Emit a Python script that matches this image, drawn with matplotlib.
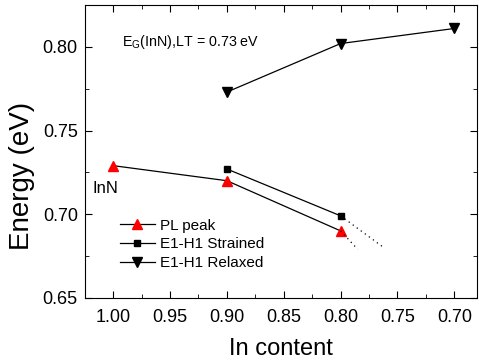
import numpy as np
import matplotlib.pyplot as plt
from matplotlib.ticker import MultipleLocator

plt.rcParams['font.family'] = ['Liberation Sans', 'DejaVu Sans']

# data
pl_x = [1.00, 0.90, 0.80]
pl_y = [0.729, 0.720, 0.690]
str_x = [0.90, 0.80]
str_y = [0.727, 0.699]
rel_x = [0.90, 0.80, 0.70]
rel_y = [0.773, 0.802, 0.811]
# dotted extrapolations
pl_ext_x = [0.80, 0.785]
pl_ext_y = [0.690, 0.679]
str_ext_x = [0.80, 0.762]
str_ext_y = [0.699, 0.680]

fig = plt.figure(figsize=(4.79, 3.61), dpi=100)
ax = fig.add_axes([0.177, 0.175, 0.819, 0.811])

ax.plot(pl_x, pl_y, color='black', lw=0.9, marker='^', ms=7,
        mfc='red', mec='red', label='PL peak')
ax.plot(str_x, str_y, color='black', lw=0.9, marker='s', ms=4.5,
        mfc='black', mec='black', label='E1-H1 Strained')
ax.plot(rel_x, rel_y, color='black', lw=0.9, marker='v', ms=7,
        mfc='black', mec='black', label='E1-H1 Relaxed')
ax.plot(pl_ext_x, pl_ext_y, color='black', lw=0.9, ls=(0, (1, 3)))
ax.plot(str_ext_x, str_ext_y, color='black', lw=0.9, ls=(0, (1, 3)))

ax.set_xlim(1.025, 0.68)
ax.set_ylim(0.65, 0.825)
ax.xaxis.set_major_locator(MultipleLocator(0.05))
ax.xaxis.set_minor_locator(MultipleLocator(0.025))
ax.yaxis.set_major_locator(MultipleLocator(0.05))
ax.yaxis.set_minor_locator(MultipleLocator(0.025))
ax.tick_params(which='both', direction='in', top=True, right=True,
               labelsize=13)
ax.tick_params(axis='x', pad=8)
ax.tick_params(axis='y', pad=5)
ax.tick_params(which='major', length=5)
ax.tick_params(which='minor', length=3)
ax.xaxis.set_major_formatter(plt.FormatStrFormatter('%.2f'))
ax.yaxis.set_major_formatter(plt.FormatStrFormatter('%.2f'))

ax.set_xlabel('In content', fontsize=17, labelpad=9)
ax.set_ylabel('Energy (eV)', fontsize=20)
ax.yaxis.set_label_coords(-0.128, 0.416)

ax.text(0.992, 0.8005, r'E$_\mathregular{G}$(InN),LT = 0.73 eV', fontsize=10.3)
ax.text(1.018, 0.7125, 'InN', fontsize=12)

ax.legend(loc='upper left', bbox_to_anchor=(0.089, 0.27), frameon=False,
          fontsize=11, handlelength=2.3, handletextpad=0.35,
          borderpad=0, borderaxespad=0, labelspacing=0.3)

fig.savefig('out.png', dpi=100)
